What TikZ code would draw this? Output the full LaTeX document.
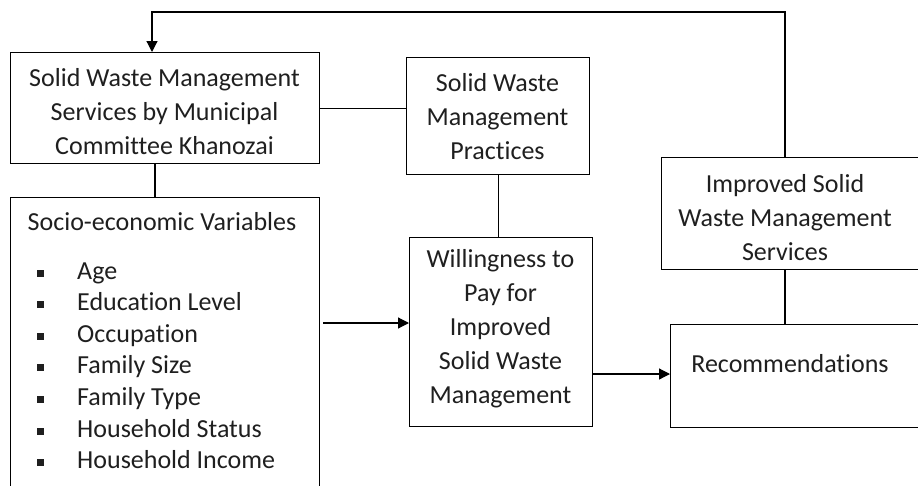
\documentclass[tikz,border=0pt]{standalone}
\usepackage{fontspec}
\setmainfont{Carlito}[Ligatures={NoCommon}]
\usetikzlibrary{arrows.meta,calc}
\begin{document}
\begin{tikzpicture}[x=1pt,y=-1pt,
  box/.style={draw=black, line width=1.2pt, rectangle, anchor=north west, inner sep=0pt},
  txt/.style={align=center, inner sep=0pt, text=black!88, font=\fontsize{26}{34}\selectfont},
  item/.style={anchor=base west, inner sep=0pt, text=black!88, font=\fontsize{26}{31.7}\selectfont},
  link/.style={draw=black, line width=1.2pt},
  arr/.style={link, -{Triangle[length=11pt,width=11pt]}}]
\useasboundingbox (0,0) rectangle (918,485);
\clip (0,0) rectangle (918,485);
% boxes
\node[box, minimum width=309pt, minimum height=111pt] (a) at (10,52) {};
\node[box, minimum width=183pt, minimum height=117pt] (b) at (406,57) {};
\node[box, minimum width=309pt, minimum height=303pt] (c) at (10,197) {};
\node[box, minimum width=183pt, minimum height=189pt] (d) at (409,237) {};
\node[box, minimum width=269pt, minimum height=112pt] (e) at (661,157) {};
\node[box, minimum width=260pt, minimum height=103pt] (f) at (670,324) {};
% texts
\node[txt] (ta) at (164.5,112) {Solid Waste Management\\Services by Municipal\\Committee Khanozai};
\node[txt] (tb) at (497.5,117) {Solid Waste\\Management\\Practices};
\node[txt] (tc) at (162,222) {Socio-economic Variables};
\node[txt] (td) at (500.5,329) {Willingness to\\Pay for\\Improved\\Solid Waste\\Management};
\node[txt] (te) at (785,218) {Improved Solid\\Waste Management\\Services};
\node[txt] (tf) at (790,364) {Recommendations};
\foreach \t [count=\i] in {Age, Education Level, Occupation, Family Size, Family Type, Household Status, Household Income}
  \node[item] (i\i) at (36.5,{279+(\i-1)*31.6}) {\makebox[40.5pt][l]{\rule[2.5pt]{7pt}{7pt}}\t};
% connectors
\coordinate (ac) at (155,0);
\coordinate (cd) at (323,323);
\coordinate (df) at (592,374);
\coordinate (ek) at (785,0);
\coordinate (fb) at (152,12);
\draw[link] (a.east) -- (a.east -| b.west);
\draw[link] (ac |- a.south) -- (ac |- c.north);
\draw[link] (b.south) -- (b.south |- d.north);
\draw[arr] (cd) -- (cd -| d.west);
\draw[arr] (df) -- (df -| f.west);
\draw[link] (ek |- e.south) -- (ek |- f.north);
\draw[arr] (ek |- e.north) |- (fb) -- (fb |- a.north);
\end{tikzpicture}
\end{document}
